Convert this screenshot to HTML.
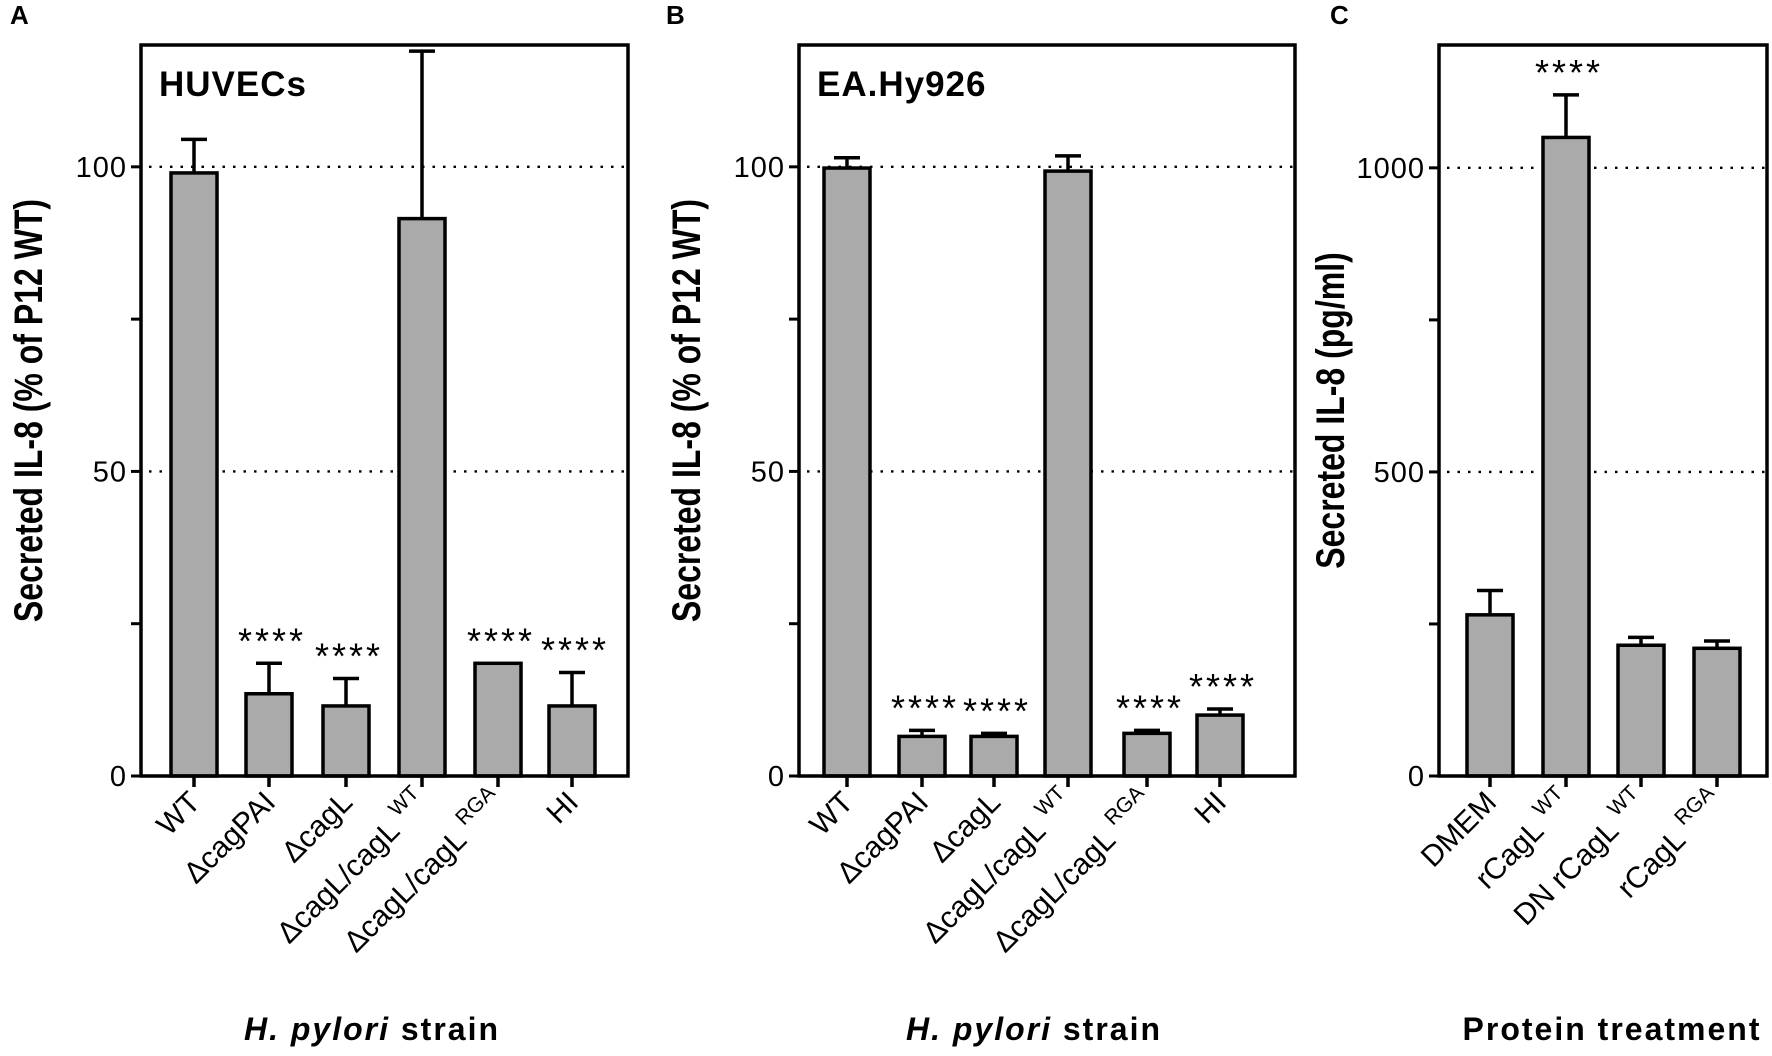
<!DOCTYPE html>
<html><head><meta charset="utf-8"><style>
body{margin:0;background:#fff}
svg{display:block}
text{font-family:"Liberation Sans",sans-serif;fill:#000}
</style></head><body>
<svg id="fig" width="1772" height="1056" viewBox="0 0 1772 1056" xmlns="http://www.w3.org/2000/svg"></svg>
<script>
const catsA=[["WT",""],["ΔcagPAI",""],["ΔcagL",""],["ΔcagL/cagL","WT"],["ΔcagL/cagL","RGA"],["HI",""]];
const valsA=[99,13.5,11.5,91.5,18.5,11.5];
const errA=[104.5,18.5,16,119,null,17];
const starsA=[false,true,true,false,true,true];
const catsB=[["WT",""],["ΔcagPAI",""],["ΔcagL",""],["ΔcagL/cagL","WT"],["ΔcagL/cagL","RGA"],["HI",""]];
const valsB=[99.8,6.5,6.5,99.3,7,10];
const errB=[101.5,7.5,7,101.8,7.5,11];
const starsB=[false,true,true,false,true,true];
const catsC=[["DMEM",""],["rCagL","WT"],["DN rCagL","WT"],["rCagL","RGA"]];
const valsC=[265,1050,215,210];
const errC=[305,1120,228,222];
const starsC=[false,true,false,false];
const ticksA=[0,50,100], ticksC=[0,500,1000];

const NS="http://www.w3.org/2000/svg";
const svg=document.getElementById('fig');
function el(tag,attrs,parent){const e=document.createElementNS(NS,tag);for(const k in attrs)e.setAttribute(k,attrs[k]);(parent||svg).appendChild(e);return e;}

function panel(o){
  const g=el('g',{});
  
  
  const top=45,bot=776;
  const y=v=>bot-(v/o.max)*(bot-top);
  const x=i=>o.centers[i];
  o.ticks.forEach(t=>{ if(t>0){const l=el('line',{x1:o.left+8,x2:o.right,y1:y(t),y2:y(t),stroke:'#000','stroke-width':2.4,'stroke-dasharray':'2.5 8'},g);
    }});
  o.vals.forEach((v,i)=>{
    if(o.err[i]!=null){
      const e=el('path',{d:`M${x(i)},${y(v)} V${y(o.err[i])} M${x(i)-13},${y(o.err[i])} H${x(i)+13}`,stroke:'#000','stroke-width':3.5,fill:'none'},g);
      
    }
    const r=el('rect',{x:x(i)-o.bw/2,y:y(v),width:o.bw,height:bot-y(v),fill:'#aaaaaa',stroke:'#000','stroke-width':3.5},g);
    
    if(o.stars[i]){
      const topv=o.err[i]!=null?o.err[i]:v;
      const s=el('text',{x:x(i)+3,y:y(topv)-10,'text-anchor':'middle','font-size':36,'letter-spacing':3},g);
      s.textContent='****';
      
    }
    el('line',{x1:x(i),x2:x(i),y1:bot,y2:bot+11,stroke:'#000','stroke-width':3.5},g);
    const c=o.cats[i];
    const tx=x(i)+8, ty=bot+28;
    const t=el('text',{transform:`translate(${tx},${ty}) rotate(-45)`,'text-anchor':'end','font-size':30},g);
    
    const a=el('tspan',{},t);a.textContent=c[0];
    if(c[1]){const b=el('tspan',{'font-size':21,dy:-14,dx:8},t);b.textContent=c[1];}
  });
  const f=el('rect',{x:o.left,y:top,width:o.right-o.left,height:bot-top,fill:'none',stroke:'#000','stroke-width':3.5},g);
  
  for(let t=0;t<=o.max;t+=o.ticks[1]/2){
    el('line',{x1:o.left-10,x2:o.left,y1:y(t),y2:y(t),stroke:'#000','stroke-width':3},g);
  }
  o.ticks.forEach(t=>{
    const l=el('text',{x:o.left-14,y:y(t)+10,'text-anchor':'end','font-size':29,'letter-spacing':1},g);
    l.textContent=t;
  });
  const yt=el('text',{transform:`translate(${o.ytx},${(top+bot)/2}) rotate(-90) scale(0.8,1)`,'text-anchor':'middle','font-size':40,'font-weight':'bold'},g);
  yt.textContent=o.ytitle;
  const xt=el('text',{x:o.xtx,y:1040,'text-anchor':'middle','font-size':32,'font-weight':'bold','letter-spacing':2},g);
  
  if(o.italic){const i1=el('tspan',{'font-style':'italic'},xt);i1.textContent='H. pylori';const i2=el('tspan',{},xt);i2.textContent=' strain';}
  else xt.textContent=o.xtitle;
  const pl=el('text',{x:o.lx,y:24,'font-size':26,'font-weight':'bold'},g);
  pl.textContent=o.id;
  if(o.label){const ct=el('text',{x:o.left+18,y:96,'font-size':35,'font-weight':'bold','letter-spacing':1},g);ct.textContent=o.label;
    }
}
panel({id:'A',left:141,right:628,max:120,ticks:ticksA,centers:[194,269,346,422,498,572],bw:46,vals:valsA,err:errA,stars:starsA,cats:catsA,
  ytitle:'Secreted IL-8 (% of P12 WT)',ytx:42,xtx:372,italic:true,lx:10,label:'HUVECs'});
panel({id:'B',left:799,right:1295,max:120,ticks:ticksA,centers:[847,922,994,1068,1147,1220],bw:46,vals:valsB,err:errB,stars:starsB,cats:catsB,
  ytitle:'Secreted IL-8 (% of P12 WT)',ytx:700,xtx:1034,italic:true,lx:666,label:'EA.Hy926'});
panel({id:'C',left:1439,right:1767,max:1202,ticks:ticksC,centers:[1490,1566,1641,1717],bw:46,vals:valsC,err:errC,stars:starsC,cats:catsC,
  ytitle:'Secreted IL-8 (pg/ml)',ytx:1344,xtx:1612,italic:false,xtitle:'Protein treatment',lx:1330});
</script>
</body></html>
